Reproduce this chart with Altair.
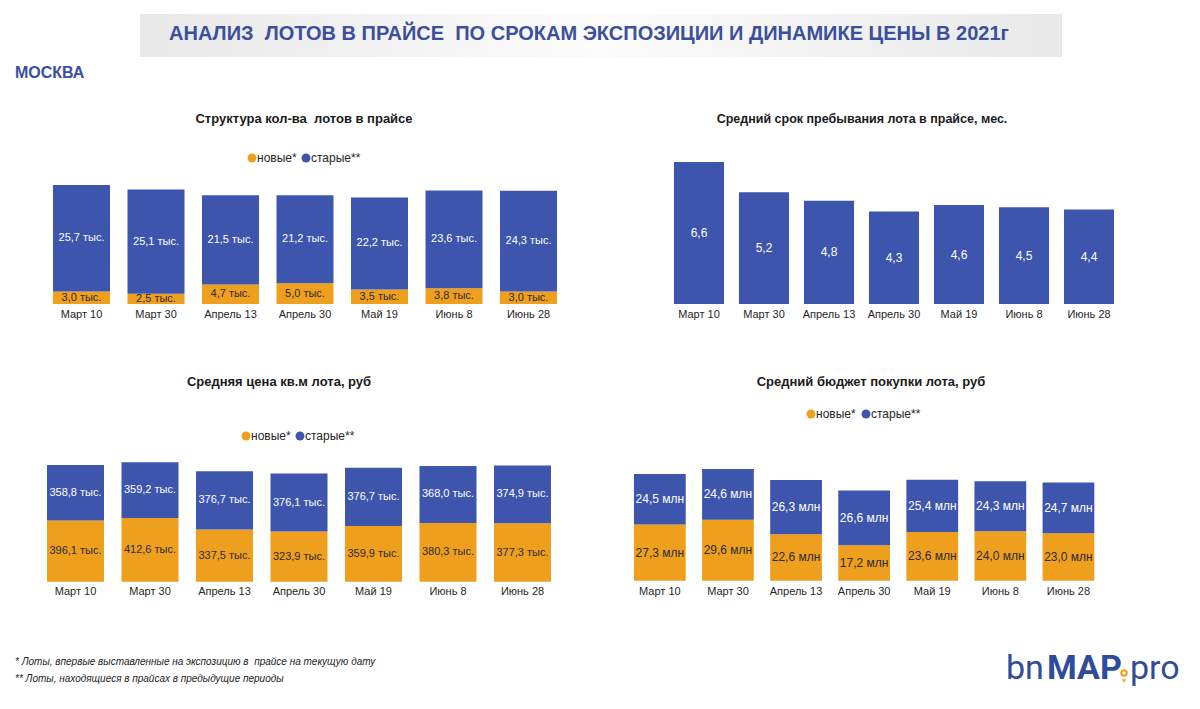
import altair as alt
import pandas as pd

# ---------------- data ----------------
dates = ["Март 10", "Март 30", "Апрель 13", "Апрель 30", "Май 19", "Июнь 8", "Июнь 28"]
series_names = ["новые*", "старые**"]

lots_new = [3.0, 2.5, 4.7, 5.0, 3.5, 3.8, 3.0]
lots_old = [25.7, 25.1, 21.5, 21.2, 22.2, 23.6, 24.3]

exposure = [6.6, 5.2, 4.8, 4.3, 4.6, 4.5, 4.4]

price_new = [396.1, 412.6, 337.5, 323.9, 359.9, 380.3, 377.3]
price_old = [358.8, 359.2, 376.7, 376.1, 376.7, 368.0, 374.9]

budget_new = [27.3, 29.6, 22.6, 17.2, 23.6, 24.0, 23.0]
budget_old = [24.5, 24.6, 26.3, 26.6, 25.4, 24.3, 24.7]

NB = "\u00a0"
main_title = f"АНАЛИЗ{NB} ЛОТОВ В ПРАЙСЕ{NB} ПО СРОКАМ ЭКСПОЗИЦИИ И ДИНАМИКЕ ЦЕНЫ В 2021г"
region = "МОСКВА"
panel_titles = [
    f"Структура кол-ва{NB} лотов в прайсе",
    "Средний срок пребывания лота в прайсе, мес.",
    "Средняя цена кв.м лота, руб",
    "Средний бюджет покупки лота, руб",
]
footnotes = [
    f"* Лоты, впервые выставленные на экспозицию в{NB} прайсе на текущую дату",
    "** Лоты, находящиеся в прайсах в предыдущие периоды",
]

# ---------------- style ----------------
BLUE = "#3D55AD"
ORANGE = "#EF9F1E"
TITLE_BLUE = "#3B4F9E"
FONT = "Liberation Sans"


def P(v):
    """page pixel -> view pixel (8px page margin)"""
    return v - 8


def fmt(v, unit):
    s = f"{v:.1f}".replace(".", ",")
    return f"{s} {unit}" if unit else s


def stacked_df(new, old, unit):
    rows = []
    for i, d in enumerate(dates):
        base = 0.0
        for name, vals, fill, tcol in [
            (series_names[0], new, ORANGE, "#2b2b2b"),
            (series_names[1], old, BLUE, "#ffffff"),
        ]:
            v = vals[i]
            rows.append(dict(cat=d, series=name, y0=base, y1=base + v,
                             mid=base + v / 2, label=fmt(v, unit), fill=fill, tcol=tcol))
            base += v
    return pd.DataFrame(rows)


def single_df(vals, unit):
    return pd.DataFrame([dict(cat=d, series="", y0=0.0, y1=v, mid=v / 2, label=fmt(v, unit),
                              fill=BLUE, tcol="#ffffff") for d, v in zip(dates, vals)])


def panel(df, xr, pad, ydom, yr, cat_y, val_size):
    x = alt.X("cat:N", sort=dates, axis=None,
              scale=alt.Scale(range=[P(xr[0]), P(xr[1])], paddingInner=pad, paddingOuter=pad / 2))
    yscale = alt.Scale(domain=ydom, range=[P(yr[0]), P(yr[1])], nice=False, zero=True)
    bars = alt.Chart(df).mark_bar().encode(
        x=x,
        y=alt.Y("y1:Q", scale=yscale, axis=None),
        y2="y0:Q",
        color=alt.Color("fill:N", scale=None),
    )
    vals = alt.Chart(df).mark_text(font=FONT, fontSize=val_size, baseline="middle").encode(
        x=x,
        y=alt.Y("mid:Q", scale=yscale, axis=None),
        text="label:N",
        color=alt.Color("tcol:N", scale=None),
    )
    cats = alt.Chart(pd.DataFrame({"cat": dates})).mark_text(
        font=FONT, fontSize=11, baseline="middle", color="#262626"
    ).encode(x=x, y=alt.value(P(cat_y)), text="cat:N")
    return alt.layer(bars, vals, cats)


p1 = panel(stacked_df(lots_new, lots_old, "тыс."), (44.25, 565.75), 0.235, [0, 30], (304, 179.6), 315, 11)
p2 = panel(single_df(exposure, ""), (666.5, 1121.5), 0.23, [0, 7], (304, 153.5), 315, 12)
p3 = panel(stacked_df(price_new, price_old, "тыс."), (38.25, 559.75), 0.235, [0, 800], (581.7, 458.0), 592, 11)
p4 = panel(stacked_df(budget_new, budget_old, "млн"), (625.8, 1102.5), 0.24, [0, 60], (580.7, 457.1), 592, 12)

one = pd.DataFrame({"k": [0]})


def text_at(txt, x, y, size, color="#1a1a1a", weight="normal", align="center", style="normal",
            baseline="middle", font=FONT):
    return alt.Chart(one).mark_text(
        text=txt, font=font, fontSize=size, fontWeight=weight, align=align,
        fontStyle=style, baseline=baseline, color=color
    ).encode(x=alt.value(P(x)), y=alt.value(P(y)))


def dot(x, y, color, size=80, shape="circle", filled=True):
    return alt.Chart(one).mark_point(shape=shape, filled=filled, size=size, color=color,
                                     opacity=1, strokeWidth=2).encode(
        x=alt.value(P(x)), y=alt.value(P(y)))


def legend(xo, xb, y):
    return [
        dot(xo, y, ORANGE),
        text_at(series_names[0], xo + 5, y, 12, align="left", color="#262626"),
        dot(xb, y, BLUE),
        text_at(series_names[1], xb + 5, y, 12, align="left", color="#262626"),
    ]


banner = alt.Chart(one).mark_rect(
    color=alt.RadialGradient(
        gradient="radial", x1=0.5, y1=0.5, r1=0, x2=0.5, y2=0.5, r2=0.75,
        stops=[alt.GradientStop(offset=0, color="#FCFCFC"),
               alt.GradientStop(offset=1, color="#DEDEDE")])
).encode(x=alt.value(P(140)), x2=alt.value(P(1062)), y=alt.value(P(14)), y2=alt.value(P(57)))

deco = [
    banner,
    text_at(main_title, 589, 34, 20, color=TITLE_BLUE, weight="bold"),
    text_at(region, 15, 73, 16, color=TITLE_BLUE, weight="bold", align="left"),
    text_at(panel_titles[0], 304, 119, 13, weight="bold"),
    text_at(panel_titles[1], 862, 119, 12.5, weight="bold"),
    text_at(panel_titles[2], 279, 382, 13, weight="bold"),
    text_at(panel_titles[3], 871, 382, 13, weight="bold"),
    *legend(252, 306, 158),
    *legend(246, 300, 436),
    *legend(811, 866, 414),
    text_at(footnotes[0], 15, 662, 10, style="italic", align="left", color="#222222"),
    text_at(footnotes[1], 15, 679, 10, style="italic", align="left", color="#222222"),
    # logo
    text_at("bn", 1006, 679, 34, color="#2F4B9C", align="left", baseline="alphabetic", font="Roboto"),
    text_at("MAP", 1047, 679, 34, color="#2F4B9C", align="left", baseline="alphabetic",
            weight="bold", font="Roboto"),
    dot(1124, 673, ORANGE, size=30, filled=False),
    dot(1124, 681, ORANGE, size=18, shape="triangle-down"),
    text_at("pro", 1130, 679, 34, color="#2F4B9C", align="left", baseline="alphabetic", font="Roboto"),
]

chart = alt.layer(p1, p2, p3, p4, *deco).resolve_scale(
    x="independent", y="independent"
).properties(
    width=1184, height=693, padding=0, background="white",
    autosize=alt.AutoSizeParams(type="none"),
).configure_view(strokeWidth=0)

chart.save("out.html", embed_options={"renderer": "svg", "actions": False})
